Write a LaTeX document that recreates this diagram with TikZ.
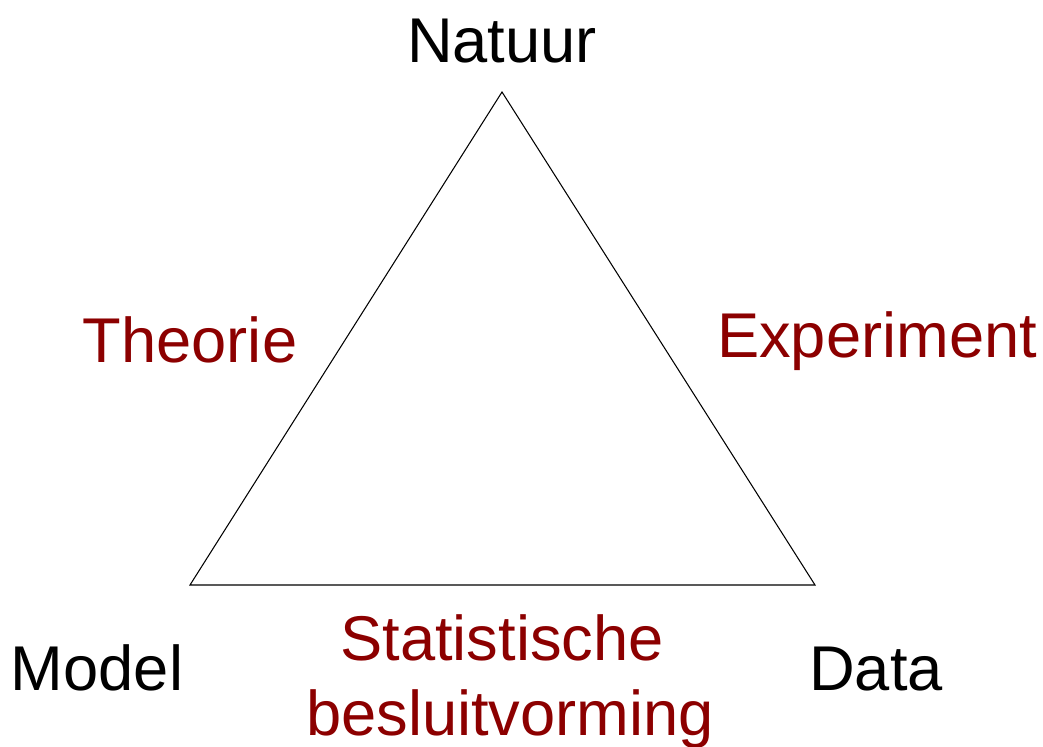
\documentclass[tikz,border=0pt]{standalone}
\usepackage{fontspec}
\setmainfont{Liberation Sans}
\definecolor{darkred}{RGB}{140,0,0}

\begin{document}
\begin{tikzpicture}[x=0.02cm, y=-0.02cm,
    corner/.style={font=\fontsize{36}{40}\selectfont, anchor=base, inner sep=0pt},
    side/.style={corner, text=darkred}]
    \useasboundingbox (0,0) rectangle (1043,746);
    \coordinate (top) at (502,92);
    \coordinate (left) at (190,585);
    \coordinate (right) at (815,585);
    \draw[line width=0.6pt] (top) -- (left) -- (right) -- cycle;
    \node[corner] (natuur) at (502,63) {Natuur};
    \node[corner] (model) at (97,690) {Model};
    \node[corner] (data) at (876,690) {Data};
    \node[side] (theorie) at (190,362) {Theorie};
    \node[side] (experiment) at (877,357) {Experiment};
    \node[side] (statistische) at (502,660) {Statistische};
    \node[side] (besluit) at (510,735) {besluitvorming};
\end{tikzpicture}
\end{document}
